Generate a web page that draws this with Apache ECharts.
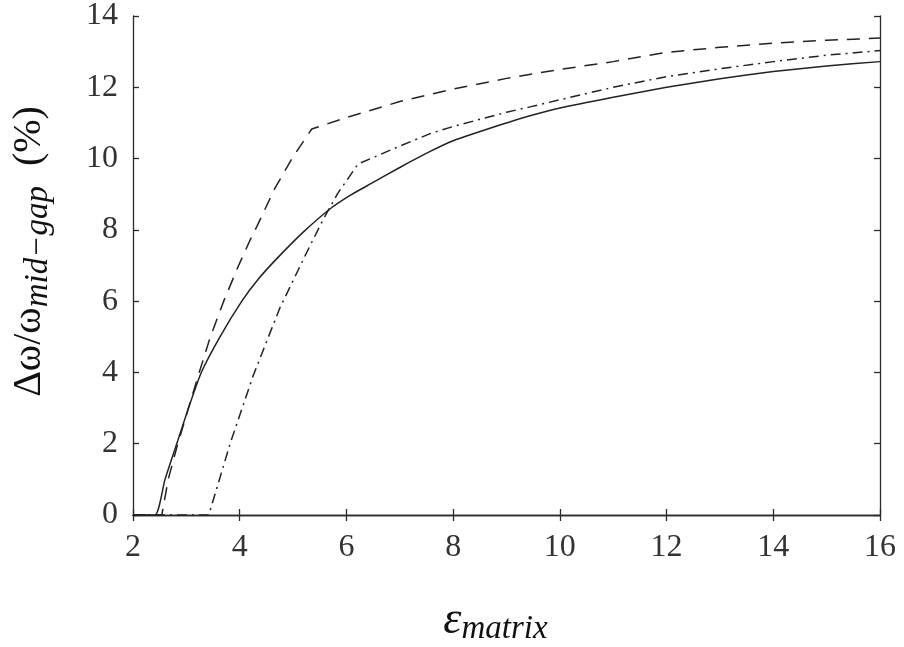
<!DOCTYPE html>
<html>
<head>
<meta charset="utf-8">
<script src="https://cdn.jsdelivr.net/npm/echarts@6/dist/echarts.min.js"></script>
<style>
  html, body { margin: 0; padding: 0; background: #fff; }
  #chart { width: 904px; height: 647px; }
</style>
</head>
<body>
<div id="chart"></div>
<script>
// Relative band-gap width versus matrix permittivity, three structures
const solidCurve = [
  [2, 0], [2.41, 0], [2.6, 1], [2.82, 2], [3.04, 3], [3.28, 4], [3.63, 5],
  [4.04, 6], [4.35, 6.62], [4.7, 7.2], [5.2, 7.95], [5.72, 8.62], [6.07, 8.97],
  [6.5, 9.33], [7, 9.75], [7.57, 10.2], [8, 10.5], [9, 11.0], [9.44, 11.2],
  [10, 11.42], [11, 11.72], [12, 12.0], [13, 12.24], [14, 12.44], [15, 12.6],
  [16, 12.72]
];
const dashedCurve = [
  [2, 0], [2.54, 0], [2.66, 1], [2.84, 2], [3.04, 3], [3.22, 3.9], [3.45, 5],
  [3.7, 6], [3.95, 6.9], [4.19, 7.7], [4.32, 8.09], [4.66, 9.17], [5.0, 10.05],
  [5.35, 10.83], [6, 11.15], [7, 11.6], [8, 11.95], [9, 12.25], [10, 12.5],
  [11, 12.72], [12, 12.98], [13, 13.12], [14, 13.24], [15, 13.32], [16, 13.38]
];
const dashDotCurve = [
  [2, 0], [3.42, 0], [3.82, 2], [4.25, 3.9], [4.75, 5.8], [5.25, 7.35],
  [5.56, 8.28], [5.84, 9.03], [6.22, 9.85], [7, 10.35], [7.57, 10.7],
  [8, 10.9], [9, 11.3], [9.44, 11.45], [10, 11.65], [11, 12.0], [12, 12.3],
  [13, 12.52], [14, 12.72], [15, 12.9], [16, 13.03]
];
const xTicks = [2, 4, 6, 8, 10, 12, 14, 16];
const yTicks = [0, 2, 4, 6, 8, 10, 12, 14];

const ink = '#2a2a2a';
const tickFont = 'Liberation Serif';
const mathFont = 'Liberation Serif';

const frameLine = { show: true, lineStyle: { color: ink, width: 1.3 } };
const innerTicks = { show: true, inside: true, length: 6, lineStyle: { color: ink, width: 1.3 } };

const chart = echarts.init(document.getElementById('chart'), null, { renderer: 'canvas' });

chart.setOption({
  backgroundColor: '#ffffff',
  animation: false,
  grid: { left: 133, right: 24, top: 16, bottom: 132, containLabel: false, outerBoundsMode: 'none' },
  xAxis: [
    {
      type: 'value', min: xTicks[0], max: xTicks[xTicks.length - 1], interval: 2,
      axisLine: frameLine, axisTick: innerTicks, splitLine: { show: false },
      axisLabel: { color: '#333', fontFamily: tickFont, fontSize: 32, margin: 17 },
      name: '{e|ε}{s|matrix}',
      nameLocation: 'middle', nameGap: 80,
      nameTextStyle: {
        padding: [0, 22, 0, 0],
        rich: {
          e: { fontFamily: mathFont, fontStyle: 'italic', fontSize: 46, color: '#111' },
          s: { fontFamily: mathFont, fontStyle: 'italic', fontSize: 33, color: '#111', padding: [18, 0, 0, 0] }
        }
      }
    },
    {
      type: 'value', position: 'top', min: xTicks[0], max: xTicks[xTicks.length - 1], interval: 2,
      axisLine: frameLine, axisTick: innerTicks, axisLabel: { show: false }, splitLine: { show: false }
    }
  ],
  yAxis: [
    {
      type: 'value', min: yTicks[0], max: yTicks[yTicks.length - 1], interval: 2,
      axisLine: frameLine, axisTick: innerTicks, splitLine: { show: false },
      axisLabel: { color: '#333', fontFamily: tickFont, fontSize: 32, margin: 15 },
      name: '{m|Δω/ω}{s|mid−gap}{p|  (%)}',
      nameLocation: 'middle', nameGap: 78, nameRotate: 90,
      nameTextStyle: {
        padding: [0, 0, 0, 28],
        rich: {
          m: { fontFamily: mathFont, fontSize: 40, color: '#111' },
          s: { fontFamily: mathFont, fontStyle: 'italic', fontSize: 33, color: '#111', padding: [18, 0, 0, 0] },
          p: { fontFamily: mathFont, fontSize: 40, color: '#111' }
        }
      }
    },
    {
      type: 'value', position: 'right', min: yTicks[0], max: yTicks[yTicks.length - 1], interval: 2,
      axisLine: frameLine, axisTick: innerTicks, axisLabel: { show: false }, splitLine: { show: false }
    }
  ],
  series: [
    {
      type: 'line', data: solidCurve, showSymbol: false, smooth: 0.2,
      lineStyle: { color: '#222', width: 1.5, type: 'solid' }
    },
    {
      type: 'line', data: dashedCurve, showSymbol: false, smooth: false,
      lineStyle: { color: '#222', width: 1.5, type: [13, 9] }
    },
    {
      type: 'line', data: dashDotCurve, showSymbol: false, smooth: false,
      lineStyle: { color: '#222', width: 1.5, type: [10, 5, 2, 5] }
    }
  ]
});
</script>
</body>
</html>
